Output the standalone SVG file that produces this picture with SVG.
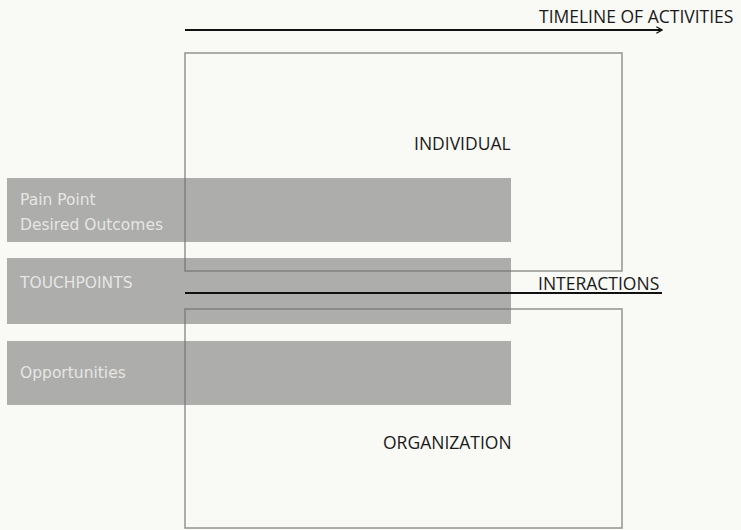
<svg xmlns="http://www.w3.org/2000/svg" width="741" height="530" viewBox="0 0 741 530">
<defs>
<style>
.box{fill:none;stroke:#929292;stroke-width:1.5}
.bar{fill:#727272;fill-opacity:0.56}
.lbl{font-family:"Open Sans","Liberation Sans",sans-serif;font-size:17.5px;fill:#1a1a1a}
.bl{font-family:"DejaVu Sans","Liberation Sans",sans-serif;font-size:15.5px;fill:#e6e6e3}
.ln{stroke:#111;stroke-width:2;fill:none}
</style>
<marker id="chev" viewBox="0 0 10 10" refX="9" refY="5" markerWidth="8" markerHeight="8" markerUnits="userSpaceOnUse" orient="auto">
<path d="M2,1 L9,5 L2,9" fill="none" stroke="#111" stroke-width="1.6"/>
</marker>
</defs>
<rect width="741" height="530" fill="#f9f9f5"/>
<g id="individual">
<rect class="box" x="185" y="53" width="437" height="218"/>
<text class="lbl" x="414" y="150">INDIVIDUAL</text>
</g>
<g id="organization">
<rect class="box" x="185" y="309" width="437" height="219"/>
<text class="lbl" x="383" y="449">ORGANIZATION</text>
</g>
<g id="painpoint">
<rect class="bar" x="7" y="178" width="504" height="64"/>
<text class="bl" x="20" y="205">Pain Point</text>
<text class="bl" x="20" y="230">Desired Outcomes</text>
</g>
<g id="touchpoints">
<rect class="bar" x="7" y="258" width="504" height="66"/>
<text class="bl" x="20" y="288">TOUCHPOINTS</text>
</g>
<g id="opportunities">
<rect class="bar" x="7" y="341" width="504" height="64"/>
<text class="bl" x="20" y="378">Opportunities</text>
</g>
<g id="connectors">
<line class="ln" x1="185" y1="30" x2="662" y2="30" marker-end="url(#chev)"/>
<line class="ln" x1="185" y1="293" x2="662" y2="293"/>
</g>
<g id="labels">
<text class="lbl" x="539" y="23">TIMELINE OF ACTIVITIES</text>
<text class="lbl" x="538" y="290">INTERACTIONS</text>
</g>
</svg>
